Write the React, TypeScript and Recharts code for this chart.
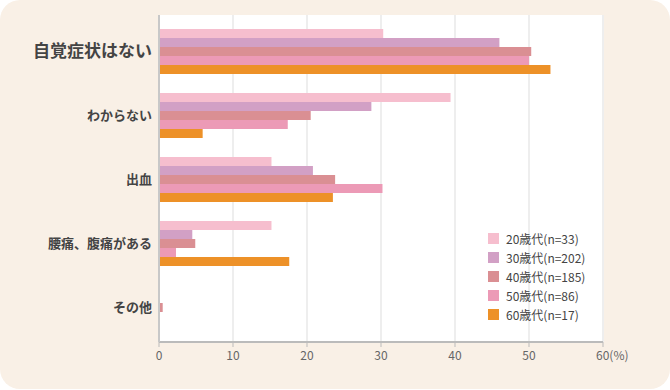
import React from 'react';
import { BarChart, Bar, XAxis, YAxis, CartesianGrid } from 'recharts';

const categories = ['自覚症状はない', 'わからない', '出血', '腰痛、腹痛がある', 'その他'];
const age20 = [30.3, 39.4, 15.2, 15.2, 0];
const age30 = [46.0, 28.7, 20.8, 4.5, 0];
const age40 = [50.3, 20.5, 23.8, 4.9, 0.5];
const age50 = [50.0, 17.4, 30.2, 2.3, 0];
const age60 = [52.9, 5.9, 23.5, 17.6, 0];
const xTicks = [0, 10, 20, 30, 40, 50, 60];

const SERIES = [
  { key: 'a20', name: '20歳代(n=33)', color: '#F6BECE', values: age20 },
  { key: 'a30', name: '30歳代(n=202)', color: '#D2A0C5', values: age30 },
  { key: 'a40', name: '40歳代(n=185)', color: '#DA8F93', values: age40 },
  { key: 'a50', name: '50歳代(n=86)', color: '#EC9AB6', values: age50 },
  { key: 'a60', name: '60歳代(n=17)', color: '#ED9128', values: age60 },
];

const data = categories.map((name, i) => {
  const row: Record<string, string | number> = { name };
  SERIES.forEach(s => { row[s.key] = s.values[i]; });
  return row;
});

const FONT = '"Noto Sans CJK JP", "Noto Sans", sans-serif';

function CategoryTick({ x, y, payload, index }: any) {
  const big = index === 0;
  return (
    <text
      x={x + 1}
      y={y}
      dy="0.35em"
      textAnchor="end"
      fontFamily={FONT}
      fontSize={big ? 17 : 13}
      fontWeight="bold"
      fill="#444"
    >
      {payload.value}
    </text>
  );
}

function ValueTick({ x, y, payload }: any) {
  const last = payload.value === 60;
  return (
    <text
      x={last ? x - 7 : x}
      y={y + 11}
      textAnchor={last ? 'start' : 'middle'}
      fontFamily={FONT}
      fontSize={12}
      fill="#666"
    >
      {last ? '60(%)' : String(payload.value)}
    </text>
  );
}

export default function App() {
  return (
    <div style={{ position: 'absolute', left: 0, top: 0, width: 670, height: 390 }}>
      <div
        style={{
          position: 'absolute',
          left: 0,
          top: 0,
          width: 670,
          height: 389,
          background: '#F9F0E6',
          borderRadius: 20,
        }}
      />
      <div style={{ position: 'absolute', left: 0, top: 0 }}>
        <BarChart
          width={670}
          height={390}
          data={data}
          layout="vertical"
          margin={{ top: 15, right: 67, bottom: 18, left: 0 }}
          barSize={9}
          barGap={0}
        >
          <CartesianGrid horizontal={false} stroke="#EEEEEE" strokeWidth={2} fill="#FFFFFF" />
          <XAxis
            type="number"
            domain={[0, 60]}
            ticks={xTicks}
            tick={<ValueTick />}
            axisLine={{ stroke: '#BBBBBB', strokeWidth: 2 }}
            tickLine={{ stroke: '#BBBBBB' }}
            tickSize={5}
            height={30}
            interval={0}
          />
          <YAxis
            type="category"
            dataKey="name"
            width={159}
            tick={<CategoryTick />}
            tickLine={false}
            axisLine={{ stroke: '#C8C8C8', strokeWidth: 2 }}
            padding={{ top: 4, bottom: 3 }}
            interval={0}
          />
          {SERIES.map(s => (
            <Bar key={s.key} dataKey={s.key} name={s.name} fill={s.color} isAnimationActive={false} />
          ))}
        </BarChart>
      </div>
      {/* legend sits inside the plot, lower right */}
      <div style={{ position: 'absolute', left: 488, top: 229, fontFamily: FONT, fontSize: 12, color: '#444' }}>
        {SERIES.map(s => (
          <div key={s.key} style={{ display: 'flex', alignItems: 'center', height: 19 }}>
            <div style={{ width: 11, height: 11, background: s.color, marginRight: 7 }} />
            <span>{s.name}</span>
          </div>
        ))}
      </div>
    </div>
  );
}
